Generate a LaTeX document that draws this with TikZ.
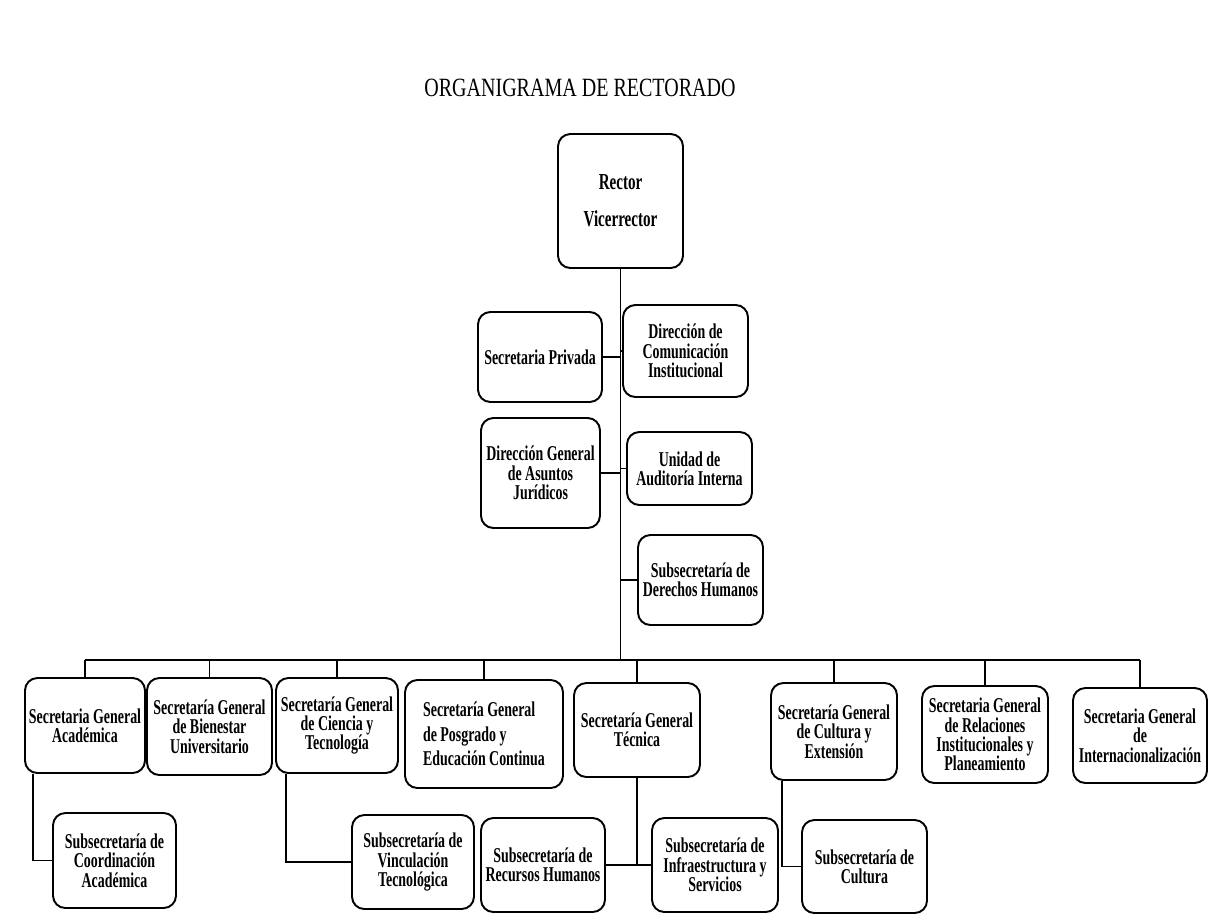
\documentclass[tikz,border=0pt]{standalone}
\usepackage{fontspec}
\setmainfont{Liberation Serif}[FakeStretch=0.76]
\newfontfamily\cajafont{Liberation Serif}[FakeStretch=0.66]
\begin{document}
\begin{tikzpicture}[x=0.02cm,y=-0.02cm,
	unidad/.style={draw,line width=1.1pt,rounded corners=7pt,align=center,inner sep=2pt,
		font=\cajafont\bfseries\fontsize{12}{11}\selectfont},
	linea/.style={line width=1.1pt}]
		\useasboundingbox (0,0) rectangle (1213,923);
		\node (titulo) at (580,88) {\fontsize{15}{18}\selectfont ORGANIGRAMA DE RECTORADO};
		% rector y dependencias directas
		\node[unidad,minimum width=2.5cm,minimum height=2.68cm,font=\cajafont\bfseries\fontsize{13}{14}\selectfont] (rector) at (620.5,201) {Rector\\[7pt]Vicerrector};
		\node[unidad,minimum width=2.48cm,minimum height=1.8cm] (priv) at (540,357) {Secretaria Privada};
		\node[unidad,minimum width=2.5cm,minimum height=1.84cm] (comu) at (685.5,351) {Dirección de\\Comunicación\\Institucional};
		\node[unidad,minimum width=2.38cm,minimum height=2.2cm] (jur) at (540.5,473) {Dirección General\\de Asuntos\\Jurídicos};
		\node[unidad,minimum width=2.5cm,minimum height=1.46cm] (audi) at (689.5,468.5) {Unidad de\\Auditoría Interna};
		\node[unidad,minimum width=2.5cm,minimum height=1.8cm] (ddhh) at (700.5,580) {Subsecretaría de\\Derechos Humanos};
		% secretarias generales
		\node[unidad,minimum width=2.4cm,minimum height=1.9cm] (acad) at (85,725.5) {Secretaria General\\Académica};
		\node[unidad,minimum width=2.5cm,minimum height=1.94cm] (bien) at (209.5,726.5) {Secretaría General\\de Bienestar\\Universitario};
		\node[unidad,minimum width=2.44cm,minimum height=1.9cm] (cyt) at (337,725.5) {Secretaría General\\de Ciencia y\\Tecnología};
		\node[unidad,minimum width=3.16cm,minimum height=2.16cm,align=left] (posg) at (484,734) {Secretaría General\\[3pt]de Posgrado y\\[3pt]Educación Continua};
		\node[unidad,minimum width=2.52cm,minimum height=1.88cm] (tec) at (637,730) {Secretaría General\\Técnica};
		\node[unidad,minimum width=2.52cm,minimum height=1.94cm] (cult) at (834,731.5) {Secretaría General\\de Cultura y\\Extensión};
		\node[unidad,minimum width=2.52cm,minimum height=1.94cm] (rel) at (985,734.5) {Secretaria General\\de Relaciones\\Institucionales y\\Planeamiento};
		\node[unidad,minimum width=2.68cm,minimum height=1.9cm] (inter) at (1140,735.5) {Secretaria General\\de\\Internacionalización};
		% subsecretarias
		\node[unidad,minimum width=2.46cm,minimum height=1.9cm] (coord) at (114.5,860.5) {Subsecretaría de\\Coordinación\\Académica};
		\node[unidad,minimum width=2.44cm,minimum height=1.88cm] (vinc) at (413,862) {Subsecretaría de\\Vinculación\\Tecnológica};
		\node[unidad,minimum width=2.48cm,minimum height=1.88cm] (rrhh) at (543,865) {Subsecretaría de\\Recursos Humanos};
		\node[unidad,minimum width=2.52cm,minimum height=1.88cm] (infra) at (715,865) {Subsecretaría de\\Infraestructura y\\Servicios};
		\node[unidad,minimum width=2.5cm,minimum height=1.86cm] (subcult) at (864.5,866.5) {Subsecretaría de\\Cultura};
		% lineas
		\coordinate (bus) at (619,660);
		\draw[linea] (rector.south) -- (rector.south|-bus);
		\draw[linea] (priv.east) -- (priv.east-|rector.south);
		\draw[linea] (comu.west) -- (comu.west-|rector.south);
		\draw[linea] (jur.east) -- (jur.east-|rector.south);
		\draw[linea] (audi.west) -- (audi.west-|rector.south);
		\draw[linea] (ddhh.west) -- (ddhh.west-|rector.south);
		\draw[linea] (acad.north|-bus) -- (inter.north|-bus);
		\foreach \s in {acad,bien,cyt,posg,tec,cult,rel,inter}
			\draw[linea] (\s.north|-bus) -- (\s.north);
		\draw[linea] ([xshift=0.18cm]acad.south west) |- (coord.west);
		\draw[linea] ([xshift=0.22cm]cyt.south west) |- (vinc.west);
		\draw[linea] (tec.south) |- (rrhh.east);
		\draw[linea] (tec.south) |- (infra.west);
		\draw[linea] ([xshift=0.24cm]cult.south west) |- (subcult.west);
		\end{tikzpicture}
\end{document}
